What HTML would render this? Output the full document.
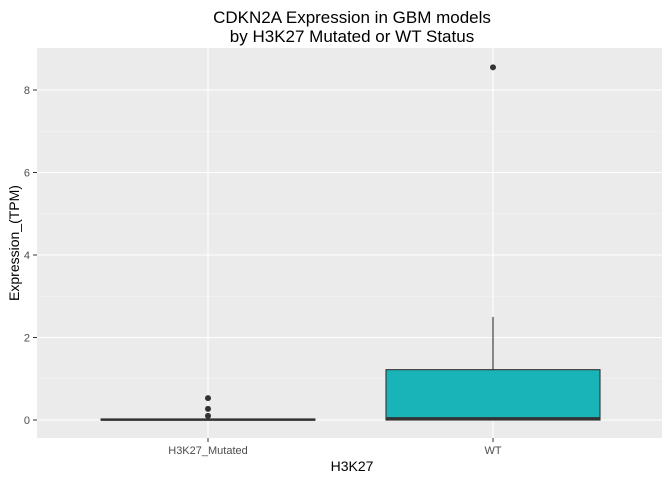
<!DOCTYPE html>
<html><head><meta charset="utf-8"><style>
body{margin:0;background:#fff;font-family:"Liberation Sans",Arial,sans-serif}
</style></head><body>
<svg id="chart" width="672" height="480" xmlns="http://www.w3.org/2000/svg">
<text x="352" y="23" text-anchor="middle" font-size="17" fill="#000">CDKN2A Expression in GBM models</text>
<text x="352" y="42" text-anchor="middle" font-size="17" fill="#000">by H3K27 Mutated or WT Status</text>
<rect x="37" y="48" width="625" height="390" fill="#ebebeb"/>
<g id="grid"></g><g id="marks"></g><g id="axes"></g>
<text x="352" y="471" text-anchor="middle" font-size="14">H3K27</text>
<text transform="translate(19,243) rotate(-90)" text-anchor="middle" font-size="14">Expression_(TPM)</text>
</svg>
<script>
const categories=["H3K27_Mutated","WT"];
const lowerWhisker=[0,0];
const q1=[0,0];
const median=[0.01,0.04];
const q3=[0.02,1.22];
const upperWhisker=[0.02,2.5];
const outliers=[[0.1,0.27,0.53],[8.55]];
const fills=["#f8766d","#19b4b7"];
const yTicks=[0,2,4,6,8];
const NS="http://www.w3.org/2000/svg";
const y=v=>420-v*41.25;
const xc=i=>208+i*285;
const bw=214;
function mk(tag,attrs,parent){const e=document.createElementNS(NS,tag);for(const k in attrs)e.setAttribute(k,attrs[k]);document.getElementById(parent).appendChild(e);return e;}
yTicks.forEach((t,i)=>{
 const g=mk("line",{x1:37,x2:662,y1:y(t),y2:y(t),stroke:"#fff","stroke-width":1.1},"grid");
 
 
 if(i<yTicks.length-1){const m=mk("line",{x1:37,x2:662,y1:y(t+1),y2:y(t+1),stroke:"#f5f5f5","stroke-width":0.6},"grid");
 
 }
 const tk=mk("line",{x1:33,x2:37,y1:y(t),y2:y(t),stroke:"#333"},"axes");
 
 
 const lb=mk("text",{x:30,y:y(t)+4,"text-anchor":"end","font-size":11,fill:"#4d4d4d"},"axes");
 lb.textContent=t;
 
 
});
categories.forEach((c,i)=>{
 const x=xc(i);
 const g=mk("line",{x1:x,x2:x,y1:48,y2:438,stroke:"#fff","stroke-width":1.1},"grid");
 
 
 const tk=mk("line",{x1:x,x2:x,y1:438,y2:442,stroke:"#333"},"axes");
 
 
 const lb=mk("text",{x:x,y:454,"text-anchor":"middle","font-size":11,fill:"#4d4d4d"},"axes");
 lb.textContent=c;
 
 
 const w=mk("line",{x1:x,x2:x,y1:y(q3[i]),y2:y(upperWhisker[i]),stroke:"#333","stroke-width":1.1},"marks");
 
 
 const w2=mk("line",{x1:x,x2:x,y1:y(q1[i]),y2:y(lowerWhisker[i]),stroke:"#333","stroke-width":1.1},"marks");
 
 
 const b=mk("rect",{x:x-bw/2,y:y(q3[i]),width:bw,height:Math.max(y(q1[i])-y(q3[i]),0.5),fill:fills[i],stroke:"#333","stroke-width":1.1},"marks");
 
 
 const m=mk("line",{x1:x-bw/2,x2:x+bw/2,y1:y(median[i]),y2:y(median[i]),stroke:"#333","stroke-width":2.5},"marks");
 
 
 outliers[i].forEach(v=>{
  const p=mk("circle",{cx:x,cy:y(v),r:3,fill:"#333"},"marks");
  
  
 });
});
</script>
</body></html>
